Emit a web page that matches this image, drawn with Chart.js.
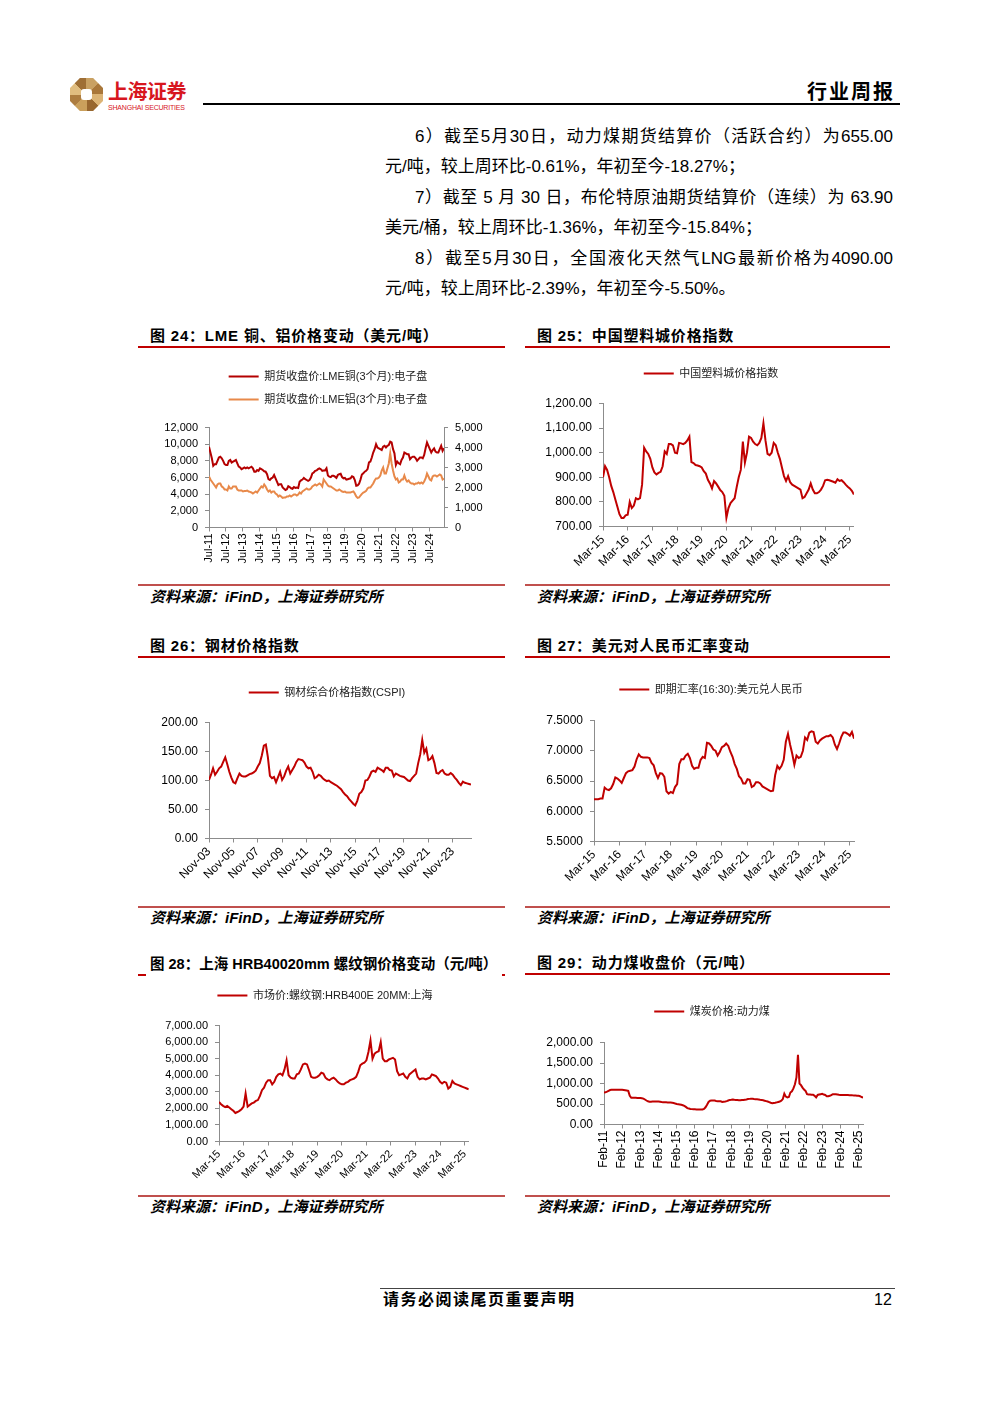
<!DOCTYPE html>
<html lang="zh-CN">
<head>
<meta charset="utf-8">
<title>行业周报</title>
<script src="https://cdn.jsdelivr.net/npm/chart.js@4.4.1/dist/chart.umd.min.js"></script>
<style>
  html, body { margin: 0; padding: 0; background: #fff; }
  body { width: 1000px; height: 1414px; position: relative; overflow: hidden;
         font-family: "Liberation Sans", "Noto Sans CJK SC", sans-serif; color: #000; }
  .abs { position: absolute; }
  .logo { left: 70px; top: 78px; width: 33px; height: 33px;
          background: conic-gradient(#c9a163 0 12.5%, #a9773a 0 25%, #dcb476 0 37.5%, #98672f 0 50%, #caa05c 0 62.5%, #ad7d40 0 75%, #e0bd80 0 87.5%, #9f6f35 0);
          clip-path: polygon(30% 0, 70% 0, 100% 30%, 100% 70%, 70% 100%, 30% 100%, 0 70%, 0 30%); }
  .logo-in { left: 81px; top: 89px; width: 11px; height: 11px; background: #fff; border-radius: 3px; }
  .brand { left: 108px; top: 79px; font-size: 20px; font-weight: bold; color: #d7161e; line-height: 26px; letter-spacing: -0.5px; }
  .brand-en { left: 108px; top: 103px; font-size: 7px; color: #d7161e; line-height: 9px; letter-spacing: -0.2px; }
  .hline { left: 203px; top: 103px; width: 697px; height: 2px; background: #000; }
  .report { left: 807px; top: 80px; font-size: 20px; font-weight: bold; line-height: 24px; letter-spacing: 2px; }
  .text { left: 385px; top: 122px; width: 508px; font-size: 17px; }
  .text div { height: 30.4px; line-height: 30px; }
  .text .first { padding-left: 30px; text-align: justify; text-align-last: justify; }
  .title { font-size: 15px; font-weight: bold; line-height: 20px; letter-spacing: 0.8px; }
  .rule { height: 2px; background: #c00000; }
  .srule { height: 2px; background: #c0504d; }
  .source { font-size: 15px; font-weight: bold; font-style: italic; line-height: 20px; }
  .box { position: absolute; }
  .frule { left: 380px; top: 1288px; width: 515px; height: 1px; background: #444; }
  .foot { left: 383px; top: 1289px; font-size: 16px; font-weight: bold; line-height: 22px; letter-spacing: 1.5px; }
  .page { left: 874px; top: 1289px; font-size: 16px; line-height: 22px; }
</style>
</head>
<body>
<div class="abs logo"></div>
<div class="abs logo-in"></div>
<div class="abs brand">上海证券</div>
<div class="abs brand-en">SHANGHAI SECURITIES</div>
<div class="abs hline"></div>
<div class="abs report">行业周报</div>

<div class="abs text">
  <div class="first">6）截至5月30日，动力煤期货结算价（活跃合约）为655.00</div>
  <div>元/吨，较上周环比-0.61%，年初至今-18.27%；</div>
  <div class="first">7）截至 5 月 30 日，布伦特原油期货结算价（连续）为 63.90</div>
  <div>美元/桶，较上周环比-1.36%，年初至今-15.84%；</div>
  <div class="first">8）截至5月30日，全国液化天然气LNG最新价格为4090.00</div>
  <div>元/吨，较上周环比-2.39%，年初至今-5.50%。</div>
</div>

<!-- figure frames -->
<div class="abs rule" style="left:138px;top:346px;width:367px"></div>
<div class="abs rule" style="left:525px;top:346px;width:365px"></div>
<div class="abs title" style="left:150px;top:326px">图 24：LME 铜、铝价格变动（美元/吨）</div>
<div class="abs title" style="left:537px;top:326px">图 25：中国塑料城价格指数</div>
<div class="abs srule" style="left:138px;top:584px;width:367px"></div>
<div class="abs srule" style="left:525px;top:584px;width:365px"></div>
<div class="abs source" style="left:150px;top:587px">资料来源：iFinD，上海证券研究所</div>
<div class="abs source" style="left:537px;top:587px">资料来源：iFinD，上海证券研究所</div>

<div class="abs rule" style="left:138px;top:656px;width:367px"></div>
<div class="abs rule" style="left:525px;top:656px;width:365px"></div>
<div class="abs title" style="left:150px;top:636px">图 26：钢材价格指数</div>
<div class="abs title" style="left:537px;top:636px">图 27：美元对人民币汇率变动</div>
<div class="abs srule" style="left:138px;top:906px;width:367px"></div>
<div class="abs srule" style="left:525px;top:906px;width:365px"></div>
<div class="abs source" style="left:150px;top:908px">资料来源：iFinD，上海证券研究所</div>
<div class="abs source" style="left:537px;top:908px">资料来源：iFinD，上海证券研究所</div>

<div class="abs rule" style="left:138px;top:974px;width:367px"></div>
<div class="abs rule" style="left:525px;top:973px;width:365px"></div>
<div class="abs title" style="left:146px;top:954px;padding:0 5px 0 4px;height:24px;font-size:14.5px;letter-spacing:0;background:#fff">图 28：上海 HRB40020mm 螺纹钢价格变动（元/吨）</div>
<div class="abs title" style="left:537px;top:953px">图 29：动力煤收盘价（元/吨）</div>
<div class="abs srule" style="left:138px;top:1195px;width:367px"></div>
<div class="abs srule" style="left:525px;top:1195px;width:365px"></div>
<div class="abs source" style="left:150px;top:1197px">资料来源：iFinD，上海证券研究所</div>
<div class="abs source" style="left:537px;top:1197px">资料来源：iFinD，上海证券研究所</div>

<div class="box" id="boxLme"><canvas id="cLme"></canvas></div>
<div class="box" id="boxPlastic"><canvas id="cPlastic"></canvas></div>
<div class="box" id="boxCspi"><canvas id="cCspi"></canvas></div>
<div class="box" id="boxFx"><canvas id="cFx"></canvas></div>
<div class="box" id="boxRebar"><canvas id="cRebar"></canvas></div>
<div class="box" id="boxCoal"><canvas id="cCoal"></canvas></div>

<div class="abs frule"></div>
<div class="abs foot">请务必阅读尾页重要声明</div>
<div class="abs page">12</div>

<script>
// ---------- data (monthly unless noted) ----------

// Fig 24: LME 3-month copper / aluminium, Jul-11 .. May-25, USD/t
const lmeTicks = ['Jul-11', 'Jul-12', 'Jul-13', 'Jul-14', 'Jul-15', 'Jul-16', 'Jul-17',
                  'Jul-18', 'Jul-19', 'Jul-20', 'Jul-21', 'Jul-22', 'Jul-23', 'Jul-24'];
const lmeCopper = [
  9700, 9000, 8300, 7400, 7600, 7600,
  8000, 8400, 8500, 8300, 8000, 7600, 7500, 7500, 8000, 8100, 7800, 7900,
  8000, 8100, 7700, 7300, 7200, 7000, 7100, 7200, 7100, 7200, 7100, 7200,
  7300, 7100, 6700, 6700, 6900, 6800, 7100, 7000, 6900, 6750, 6700, 6400,
  5800, 5700, 5900, 6000, 6300, 5900, 5500, 5100, 5200, 5200, 4800, 4650,
  4500, 4600, 4950, 4850, 4700, 4650, 4850, 4750, 4800, 4750, 5500, 5650,
  5750, 5950, 5800, 5700, 5600, 5700, 6000, 6500, 6600, 6800, 6850, 7000,
  7100, 7000, 6800, 6850, 6850, 7100, 6250, 6100, 6050, 6200, 6200, 6100,
  5950, 6300, 6400, 6450, 6050, 5900, 5950, 5750, 5800, 5850, 5900, 6150,
  6050, 5700, 5000, 5050, 5250, 5750, 6350, 6500, 6700, 6800, 7000, 7800,
  7900, 8400, 9000, 9400, 10000, 9600, 9500, 9400, 9300, 9700, 9800, 9600,
  9800, 9900, 10300, 10200, 9400, 8900, 7500, 7900, 7700, 7600, 8100, 8400,
  9000, 8900, 8800, 8800, 8200, 8400, 8500, 8500, 8300, 8000, 8200, 8400,
  8400, 8300, 8700, 9500, 10200, 9800, 9400, 9000, 9300, 9500, 9100, 9000,
  9000, 9400, 9800, 9200, 9500
];
const lmeAluminium = [
  2550, 2400, 2300, 2200, 2100, 2000,
  2150, 2200, 2200, 2050, 2000, 1900, 1900, 1850, 2050, 1950, 1950, 2050,
  2050, 2050, 1900, 1850, 1850, 1850, 1800, 1820, 1830, 1850, 1800, 1780,
  1750, 1700, 1750, 1800, 1750, 1850, 1950, 2050, 2000, 2150, 2050, 1900,
  1800, 1850, 1750, 1800, 1800, 1700, 1650, 1550, 1600, 1550, 1480, 1500,
  1500, 1550, 1550, 1600, 1550, 1600, 1650, 1650, 1600, 1650, 1750, 1700,
  1800, 1850, 1900, 1950, 1900, 1900, 1950, 2050, 2100, 2150, 2100, 2150,
  2200, 2150, 2050, 2400, 2300, 2200, 2100, 2050, 2050, 2000, 1950, 1900,
  1850, 1850, 1900, 1850, 1800, 1780, 1800, 1750, 1750, 1750, 1750, 1780,
  1800, 1700, 1550, 1480, 1500, 1600, 1680, 1750, 1780, 1830, 1950, 2000,
  2000, 2100, 2200, 2350, 2450, 2450, 2500, 2600, 2850, 3000, 2700, 2700,
  2950, 3200, 3700, 3200, 2850, 2550, 2400, 2450, 2250, 2300, 2400, 2400,
  2600, 2400, 2300, 2350, 2250, 2200, 2200, 2150, 2200, 2200, 2250, 2200,
  2250, 2200, 2300, 2450, 2700, 2550, 2400, 2350, 2550, 2600, 2600, 2550,
  2600, 2650, 2600, 2400, 2450
];

// Fig 25: China Plastic City price index, Mar-15 .. May-25
const plasticTicks = ['Mar-15', 'Mar-16', 'Mar-17', 'Mar-18', 'Mar-19', 'Mar-20',
                      'Mar-21', 'Mar-22', 'Mar-23', 'Mar-24', 'Mar-25'];
const plasticIndex = [
  900, 945, 930, 900, 865, 840, 810, 780, 750, 735,
  735, 745, 748, 800, 775, 785, 815, 810, 815, 870, 1020, 1005,
  995, 975, 940, 920, 912, 918, 922, 945, 1005, 995, 1035, 1035,
  1030, 1000, 998, 1040, 1038, 1035, 1040, 1050, 1065, 962, 958, 950,
  948, 945, 940, 925, 915, 890, 875, 855, 885, 875, 862, 848,
  840, 825, 735, 775, 795, 805, 815, 860, 900, 930, 1045, 960,
  1000, 1065, 1060, 1045, 1035, 1030, 1040, 1060, 1120, 1050, 995, 990,
  1000, 1040, 1030, 1000, 975, 940, 905, 885, 905, 880, 870, 865,
  860, 855, 850, 815, 820, 835, 850, 875, 850, 835, 835, 840,
  850, 865, 888, 890, 888, 885, 882, 878, 892, 885, 888, 880,
  870, 862, 855, 845, 830
];

// Fig 26: steel composite price index CSPI, every two months, Nov-03 .. May-25
const cspiTicks = ['Nov-03', 'Nov-05', 'Nov-07', 'Nov-09', 'Nov-11', 'Nov-13',
                   'Nov-15', 'Nov-17', 'Nov-19', 'Nov-21', 'Nov-23'];
const cspi = [
  101,
  110, 121, 110, 115, 121, 124,
  132, 140, 128, 115, 105, 97,
  95, 104, 112, 108, 107, 107,
  109, 111, 112, 114, 117, 124,
  130, 143, 160, 162, 140, 108,
  104, 106, 97, 106, 115, 101,
  107, 117, 124, 112, 118, 124,
  132, 137, 136, 135, 131, 124,
  121, 122, 115, 104, 106, 110,
  108, 104, 101, 99, 100, 97,
  95, 93, 91, 88, 85, 80,
  76, 73, 68, 64, 60, 57,
  65, 77, 80, 86, 100, 101,
  107, 115, 117, 115, 122, 120,
  118, 115, 122, 122, 118, 117,
  107, 112, 110, 108, 107, 106,
  103, 100, 99, 104, 108, 112,
  130, 145, 170, 148, 155, 135,
  137, 142, 130, 113, 112, 116,
  118, 112, 110, 110, 113, 110,
  105, 101, 96, 92, 98, 96,
  95, 94, 93
];

// Fig 27: USD/CNY spot (16:30), Mar-15 .. May-25
const fxTicks = ['Mar-15', 'Mar-16', 'Mar-17', 'Mar-18', 'Mar-19', 'Mar-20',
                 'Mar-21', 'Mar-22', 'Mar-23', 'Mar-24', 'Mar-25'];
const usdCny = [
  6.20, 6.20, 6.20, 6.21, 6.21, 6.39, 6.36, 6.35, 6.38, 6.45,
  6.56, 6.54, 6.51, 6.47, 6.55, 6.63, 6.66, 6.67, 6.68, 6.74, 6.86, 6.94,
  6.90, 6.89, 6.89, 6.89, 6.88, 6.80, 6.76, 6.63, 6.55, 6.63, 6.62, 6.57,
  6.33, 6.29, 6.32, 6.30, 6.40, 6.45, 6.78, 6.86, 6.86, 6.92, 6.95, 6.88,
  6.75, 6.70, 6.72, 6.72, 6.85, 6.90, 6.88, 7.13, 7.12, 7.08, 7.02, 7.00,
  6.92, 6.98, 7.06, 7.08, 7.12, 7.08, 6.98, 6.90, 6.78, 6.70, 6.58, 6.54,
  6.46, 6.46, 6.53, 6.52, 6.40, 6.42, 6.48, 6.48, 6.46, 6.41, 6.39, 6.37,
  6.35, 6.33, 6.34, 6.60, 6.75, 6.70, 6.75, 6.85, 7.15, 7.28, 7.10, 6.95,
  6.77, 6.92, 6.88, 6.90, 7.00, 7.22, 7.18, 7.30, 7.32, 7.31, 7.15, 7.12,
  7.17, 7.20, 7.22, 7.24, 7.24, 7.26, 7.22, 7.10, 7.03, 7.12, 7.23, 7.30,
  7.30, 7.28, 7.25, 7.31, 7.20
];

// Fig 28: Shanghai rebar HRB400E 20mm market price, Mar-15 .. May-25, CNY/t
const rebarTicks = ['Mar-15', 'Mar-16', 'Mar-17', 'Mar-18', 'Mar-19', 'Mar-20',
                    'Mar-21', 'Mar-22', 'Mar-23', 'Mar-24', 'Mar-25'];
const rebar = [
  2380, 2250, 2150, 2080, 2150, 2050, 1950, 1850, 1720, 1780,
  1850, 1950, 2100, 2900, 2100, 2200, 2300, 2350, 2450, 2500, 2750, 3100,
  3250, 3550, 3700, 3700, 3450, 3600, 3900, 4050, 4100, 4000, 4350, 4900,
  4000, 3850, 3800, 3800, 4050, 4100, 4350, 4650, 4700, 4650, 4300, 3900,
  3850, 3850, 3900, 4000, 4150, 4100, 3850, 3750, 3700, 3800, 3850, 3750,
  3600, 3500, 3450, 3450, 3550, 3600, 3700, 3750, 3800, 3900, 4200, 4600,
  4700, 4750, 4900, 5400, 6100, 5000, 5300, 5400, 5450, 6000, 5000, 4850,
  4850, 4950, 5000, 5050, 4950, 4250, 4000, 4050, 4100, 3900, 3800, 4050,
  4150, 4250, 4350, 3900, 3750, 3800, 3800, 3750, 3800, 3850, 4050, 4000,
  3950, 3800, 3600, 3500, 3600, 3550, 3200, 3300, 3650, 3500, 3450, 3400,
  3350, 3300, 3250, 3200, 3150
];

// Fig 29: thermal coal price, Feb-11 .. May-25, CNY/t
const coalTicks = ['Feb-11', 'Feb-12', 'Feb-13', 'Feb-14', 'Feb-15', 'Feb-16', 'Feb-17', 'Feb-18',
                   'Feb-19', 'Feb-20', 'Feb-21', 'Feb-22', 'Feb-23', 'Feb-24', 'Feb-25'];
const coal = [
  780, 785, 800, 820, 840, 845, 850, 850, 850, 850, 848,
  845, 845, 840, 835, 830, 820, 700, 650, 650, 650, 650, 648,
  646, 645, 642, 630, 610, 585, 565, 555, 555, 558, 560, 562,
  562, 560, 555, 548, 542, 540, 540, 538, 536, 534, 530, 525,
  510, 500, 495, 490, 480, 470, 455, 430, 400, 390, 380, 375,
  372, 370, 368, 366, 366, 366, 366, 380, 420, 480, 550, 580,
  585, 588, 585, 575, 570, 568, 565, 550, 555, 560, 570, 585,
  600, 605, 612, 605, 600, 595, 590, 590, 595, 600, 605, 610,
  620, 625, 630, 628, 622, 618, 615, 612, 605, 600, 590, 580,
  570, 560, 545, 530, 520, 525, 530, 540, 550, 560, 580, 620,
  750, 680, 660, 670, 780, 810, 880, 980, 1150, 1700, 1000, 960,
  900, 850, 820, 740, 730, 730, 725, 725, 700, 660, 720, 730,
  740, 750, 730, 720, 690, 690, 700, 715, 740, 738, 735, 730,
  725, 722, 720, 720, 720, 718, 718, 716, 715, 712, 710, 706,
  702, 700, 690, 670, 655
];

// ---------- charts ----------
Chart.defaults.font.family = '"Liberation Sans", "Noto Sans CJK SC", sans-serif';
Chart.defaults.color = '#000';
Chart.defaults.animation = false;

const RED = '#c00000';
const AXIS = '#8c8c8c';
const LEGEND_FONT = 11;

// extra room under the legend, and a sideways nudge of it
const legendTweak = {
  id: 'legendTweak',
  beforeInit(chart, args, opts) {
    const fit = chart.legend.fit;
    chart.legend.fit = function () {
      fit.call(this);
      this.height += opts.gap || 0;
    };
  },
  afterLayout(chart, args, opts) {
    chart.legend.left += opts.shift || 0;
    chart.legend.right += opts.shift || 0;
  }
};

const comma0 = v => v.toLocaleString('en-US');
const comma2 = v => v.toLocaleString('en-US', { minimumFractionDigits: 2, maximumFractionDigits: 2 });

function yAxis(width, min, max, step, fmt, size, position) {
  return {
    position: position || 'left', min: min, max: max,
    ticks: { stepSize: step, callback: fmt, font: { size: size }, padding: 7 },
    grid: { drawOnChartArea: false, color: AXIS, tickLength: 4 },
    border: { color: AXIS },
    afterFit(s) { s.width = width; }
  };
}

function lineChart(id, box, series, xTicks, xStep, yScales, o) {
  const pad = o.rows > 1 ? 12 : 10;
  const top = box.legendY - pad - LEGEND_FONT / 2;
  const legendH = o.rows * (LEGEND_FONT + pad) + 10;
  const wrap = document.getElementById('box' + id);
  wrap.style.left = box.left + 'px';
  wrap.style.top = top + 'px';
  wrap.style.width = (box.right - box.left) + 'px';
  wrap.style.height = (box.plotBottom + box.xAxisH - top) + 'px';

  const n = series[0].data.length;
  const scales = Object.assign({
    x: {
      type: 'linear', min: 0, max: n - 1,
      afterBuildTicks(s) { s.ticks = xTicks.map((t, i) => ({ value: i * xStep })); },
      afterFit(s) { s.height = box.xAxisH; },
      ticks: {
        autoSkip: false, minRotation: o.rotation, maxRotation: o.rotation, padding: 2,
        font: { size: o.tickFont },
        callback: v => xTicks[Math.round(v / xStep)]
      },
      grid: { drawOnChartArea: false, color: AXIS, tickLength: 4 },
      border: { color: AXIS }
    }
  }, yScales);

  new Chart(document.getElementById('c' + id), {
    type: 'line',
    data: {
      datasets: series.map(s => ({
        label: s.label,
        data: s.data.map((v, i) => ({ x: i, y: v })),
        yAxisID: s.axis || 'y',
        borderColor: s.color,
        backgroundColor: s.color,
        borderWidth: 2,
        pointRadius: 0,
        tension: 0
      }))
    },
    options: {
      responsive: true,
      maintainAspectRatio: false,
      layout: { padding: 0 },
      plugins: {
        legend: {
          position: 'top',
          labels: {
            usePointStyle: true, pointStyle: 'line', pointStyleWidth: 30,
            padding: pad, color: '#222', font: { size: LEGEND_FONT }
          }
        },
        tooltip: { enabled: false },
        legendTweak: { gap: box.plotTop - top - legendH, shift: box.legendX - (box.left + box.right) / 2 }
      },
      scales: scales
    },
    plugins: [legendTweak]
  });
}

lineChart('Lme',
  { left: 140, right: 505, legendY: 376, legendX: 328, plotTop: 427, plotBottom: 527, xAxisH: 50 },
  [
    { label: '期货收盘价:LME铜(3个月):电子盘', data: lmeCopper, color: '#b40000' },
    { label: '期货收盘价:LME铝(3个月):电子盘', data: lmeAluminium, color: '#e8894a', axis: 'y2' }
  ],
  lmeTicks, 12,
  {
    y: yAxis(69, 0, 12000, 2000, comma0, 11),
    y2: yAxis(61, 0, 5000, 1000, comma0, 11, 'right')
  },
  { rows: 2, rotation: 90, tickFont: 11 });

lineChart('Plastic',
  { left: 525, right: 862, legendY: 373, legendX: 711, plotTop: 403, plotBottom: 526, xAxisH: 52 },
  [{ label: '中国塑料城价格指数', data: plasticIndex, color: RED }],
  plasticTicks, 12,
  { y: yAxis(78, 700, 1200, 100, comma2, 12) },
  { rows: 1, rotation: 45, tickFont: 12 });

lineChart('Cspi',
  { left: 140, right: 472, legendY: 692, legendX: 327, plotTop: 722, plotBottom: 838, xAxisH: 55 },
  [{ label: '钢材综合价格指数(CSPI)', data: cspi, color: RED }],
  cspiTicks, 12,
  { y: yAxis(69, 0, 200, 50, v => v.toFixed(2), 12) },
  { rows: 1, rotation: 45, tickFont: 12 });

lineChart('Fx',
  { left: 525, right: 862, legendY: 689, legendX: 711, plotTop: 720, plotBottom: 841, xAxisH: 55 },
  [{ label: '即期汇率(16:30):美元兑人民币', data: usdCny, color: RED }],
  fxTicks, 12,
  { y: yAxis(69, 5.5, 7.5, 0.5, v => v.toFixed(4), 12) },
  { rows: 1, rotation: 45, tickFont: 12 });

lineChart('Rebar',
  { left: 140, right: 476, legendY: 995, legendX: 325, plotTop: 1025, plotBottom: 1141, xAxisH: 50 },
  [{ label: '市场价:螺纹钢:HRB400E 20MM:上海', data: rebar, color: RED }],
  rebarTicks, 12,
  { y: yAxis(79, 0, 7000, 1000, comma2, 11) },
  { rows: 1, rotation: 45, tickFont: 11 });

lineChart('Coal',
  { left: 525, right: 875, legendY: 1011, legendX: 712, plotTop: 1042, plotBottom: 1124, xAxisH: 55 },
  [{ label: '煤炭价格:动力煤', data: coal, color: RED }],
  coalTicks, 12,
  { y: yAxis(79, 0, 2000, 500, comma2, 12) },
  { rows: 1, rotation: 90, tickFont: 12 });
</script>
</body>
</html>
